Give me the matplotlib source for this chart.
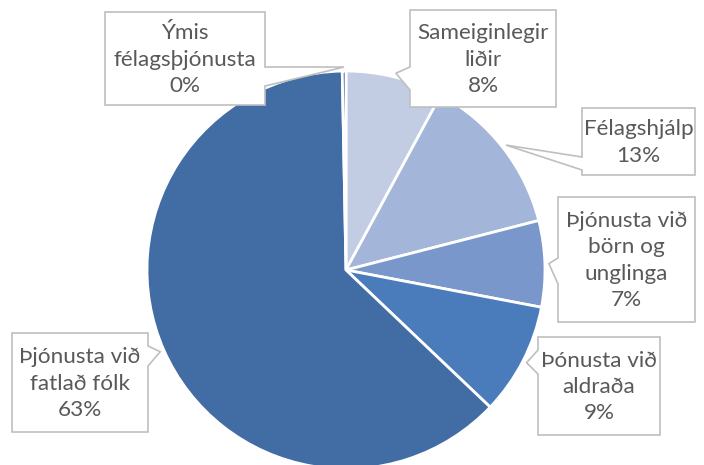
import numpy as np
import matplotlib.pyplot as plt
from matplotlib.patches import Polygon

labels = ['Sameiginlegir\nliðir', 'Félagshjálp', 'Þjónusta við\nbörn og\nunglinga',
          'Þónusta við\naldraða', 'Þjónusta við\nfatlað fólk', 'Ýmis\nfélagsþjónusta']
values = [7.9, 13.1, 7.0, 9.1, 62.6, 0.3]
pct_text = ['8%', '13%', '7%', '9%', '63%', '0%']
colors = ['#C2CDE3', '#A3B5D9', '#7A97CB', '#4A7CBC', '#416DA4', '#2F5C93']

W, H = 704, 465
# callout layout in pixels (top-left origin): box x0, y0, x1, y1, side, base y0, base y1
boxes = [
    (410, 10, 556, 107, 'left', 67, 90),
    (582, 108, 695, 175, 'left', 157, 170),
    (558, 197, 695, 322, 'left', 258, 284),
    (538, 337, 660, 435, 'left', 350, 374),
    (12, 333, 148, 432, 'right', 346, 366),
    (105, 12, 265, 105, 'right', 67, 86),
]

plt.rcParams['font.family'] = ['Lato', 'DejaVu Sans']
fig = plt.figure(figsize=(W / 100, H / 100), dpi=100)
ax = fig.add_axes([0, 0, 1, 1])

cx, cy, r = 346, H - 270, 199
wedges, _ = ax.pie(values, colors=colors, startangle=90, counterclock=False,
                   center=(cx, cy), radius=r,
                   wedgeprops=dict(edgecolor='white', linewidth=2))
ax.set_xlim(0, W)
ax.set_ylim(0, H)
ax.set_aspect('equal')
ax.axis('off')


def callout(w, box, text):
    x0, y0, x1, y1, side, b0, b1 = box
    ang = np.deg2rad((w.theta1 + w.theta2) / 2)
    tip = (cx + 1.02 * r * np.cos(ang), cy + 1.02 * r * np.sin(ang))
    yt, yb = H - y0, H - y1
    b0, b1 = H - b0, H - b1
    if side == 'left':
        pts = [(x0, yt), (x1, yt), (x1, yb), (x0, yb), (x0, b1), tip, (x0, b0)]
    else:
        pts = [(x0, yt), (x1, yt), (x1, b0), tip, (x1, b1), (x1, yb), (x0, yb)]
    ax.add_patch(Polygon(pts, closed=True, facecolor='white', edgecolor='#BFBFBF',
                         linewidth=1.2, zorder=3))
    ax.text((x0 + x1) / 2, (yt + yb) / 2 - 1, text, ha='center', va='center',
            fontsize=16.2, color='#595959', linespacing=1.38, zorder=4)


for w, box, lab, p in zip(wedges, boxes, labels, pct_text):
    callout(w, box, lab + '\n' + p)

fig.savefig('out.png', dpi=100)
